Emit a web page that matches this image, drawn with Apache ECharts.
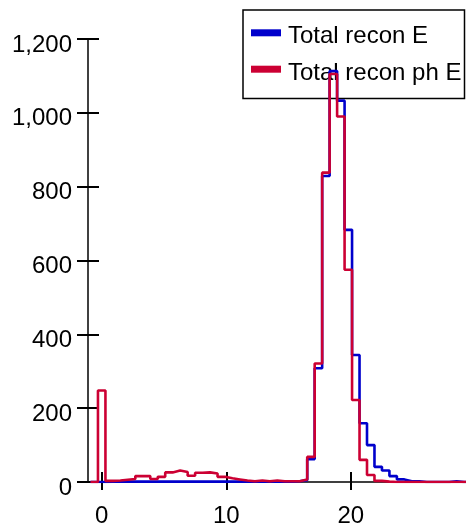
<!DOCTYPE html>
<html>
<head>
<meta charset="utf-8">
<script src="https://cdn.jsdelivr.net/npm/echarts@6/dist/echarts.min.js"></script>
<style>
html,body{margin:0;padding:0;background:#fff;}
#chart{width:466px;height:527px;}
</style>
</head>
<body>
<div id="chart"></div>
<script>
// Histogram bins: left edge of first bin and bin width
const binStart = -0.9;
const binWidth = 0.6;
const seriesNames = ['Total recon E', 'Total recon ph E'];
const blueCounts = [0, 0,
  1, 1, 1, 1, 1, 1, 1, 1, 1, 1, 1, 1, 1, 1, 1, 1, 1, 1, 1, 1, 1, 1, 1, 1, 1, 2,
  5, 62, 308, 829, 1113, 1033, 683, 344, 159, 100, 41, 31, 16, 7, 2, 2,
  0, 0, 0, 0, 2, 0, 0];
const redCounts = [0, 248,
  3, 4, 6, 8, 16, 16, 8, 14, 26, 31, 27, 17, 25, 26, 23, 14, 10, 7, 4, 2, 4, 2, 4, 2, 2, 2,
  7, 68, 321, 838, 1105, 990, 575, 222, 60, 19, 3, 1,
  0, 0, 0, 0, 0, 0, 0, 0, 0, 0, 0];
const xTickValues = [0, 10, 20];
const yTickStep = 200;

const FONT = "'Liberation Sans', Arial, Helvetica, sans-serif";

function stepData(counts) {
  const pts = [[binStart, 0]];
  for (let i = 0; i < counts.length; i++) {
    pts.push([binStart + i * binWidth, counts[i]]);
  }
  const end = binStart + counts.length * binWidth;
  pts.push([end, counts[counts.length - 1]]);
  pts.push([end, 0]);
  return pts;
}

const chart = echarts.init(document.getElementById('chart'), null, {renderer: 'canvas'});

const xBase = {
  type: 'value', min: -1.1, max: 29.2, position: 'bottom',
  splitLine: {show: false}
};
const yBase = {
  type: 'value', min: 0, max: 1200, interval: yTickStep, position: 'left',
  splitLine: {show: false}
};
const richDown = {d: {fontSize: 24, color: '#000', fontFamily: FONT, padding: [12, 0, 0, 0]}};

chart.setOption({
  animation: false,
  backgroundColor: '#fff',
  grid: {left: 88, right: 0.6, top: 39, bottom: 45, containLabel: false, outerBoundsMode: 'none'},
  xAxis: [
    Object.assign({}, xBase, {
      axisLine: {show: true, onZero: false, lineStyle: {color: '#000', width: 1.5}},
      axisTick: {show: true, inside: false, length: 8, customValues: xTickValues, lineStyle: {color: '#000', width: 2}},
      axisLabel: {show: true, customValues: xTickValues, margin: 22, fontSize: 24, color: '#000', fontFamily: FONT}
    }),
    Object.assign({}, xBase, {
      axisLine: {show: false, onZero: false},
      axisTick: {show: true, inside: true, length: 10, customValues: xTickValues, lineStyle: {color: '#000', width: 2}},
      axisLabel: {show: false}
    })
  ],
  yAxis: [
    Object.assign({}, yBase, {
      axisLine: {show: true, onZero: false, lineStyle: {color: '#000', width: 1.5}},
      axisTick: {show: true, inside: false, length: 11, lineStyle: {color: '#000', width: 2}},
      axisLabel: {show: true, margin: 16, fontSize: 24, color: '#000', fontFamily: FONT,
        rich: richDown,
        formatter: v => '{d|' + v.toLocaleString('en-US') + '}'}
    }),
    Object.assign({}, yBase, {
      axisLine: {show: false, onZero: false},
      axisTick: {show: true, inside: true, length: 11, lineStyle: {color: '#000', width: 2}},
      axisLabel: {show: false}
    })
  ],
  legend: {
    orient: 'vertical', left: 251, top: 24.8, padding: 0, itemGap: 12.4,
    itemWidth: 30, itemHeight: 7, icon: 'rect', selectedMode: false,
    textStyle: {fontSize: 24, color: '#000', fontFamily: FONT, rich: {d: {fontSize: 24, color: '#000', fontFamily: FONT, padding: [8, 0, 0, 2]}}},
    formatter: '{d|{name}}',
    data: seriesNames
  },
  graphic: [{
    type: 'rect', z: 3,
    shape: {x: 243, y: 10, width: 221.5, height: 88.5},
    style: {fill: 'none', stroke: '#000', lineWidth: 1.5}
  }],
  series: [
    {
      name: seriesNames[0], type: 'line', step: 'end', z: 10, symbol: 'none',
      xAxisIndex: 0, yAxisIndex: 0,
      color: '#0000cc',
      lineStyle: {color: '#0000cc', width: 2.6},
      data: stepData(blueCounts)
    },
    {
      name: seriesNames[1], type: 'line', step: 'end', z: 11, symbol: 'none',
      xAxisIndex: 0, yAxisIndex: 0,
      color: '#cc0033',
      lineStyle: {color: '#cc0033', width: 2.6},
      data: stepData(redCounts)
    }
  ]
});
</script>
</body>
</html>
